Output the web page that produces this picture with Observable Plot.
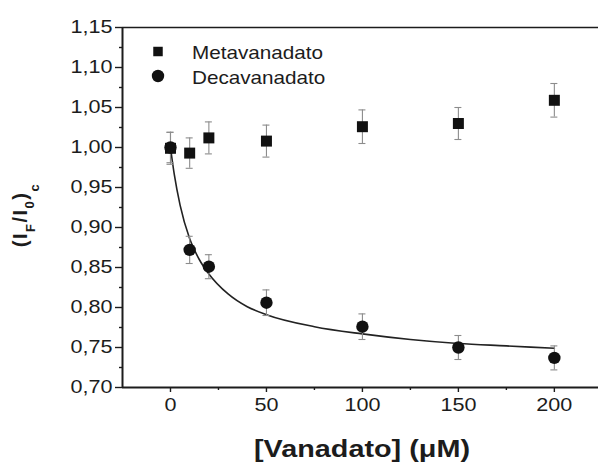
<!DOCTYPE html>
<html>
<head>
<meta charset="utf-8">
<script src="https://cdn.jsdelivr.net/npm/d3@7"></script>
<script src="https://cdn.jsdelivr.net/npm/@observablehq/plot@0.6"></script>
<style>
  html, body { margin: 0; padding: 0; background: #fff; overflow: hidden; }
  #chart svg { display: block; }
</style>
</head>
<body>
<div id="chart"></div>
<script>
// Vanadate concentration (µM) at which each sample was measured
const concentrations = [0, 10, 20, 50, 100, 150, 200];

// Metavanadate: relative fluorescence (I_F/I_0)_c and its error
const metaValues = [0.999, 0.993, 1.012, 1.008, 1.026, 1.030, 1.059];
const metaErrors = [0.020, 0.019, 0.020, 0.020, 0.021, 0.020, 0.021];

// Decavanadate: relative fluorescence (I_F/I_0)_c and its error
const decaValues = [1.000, 0.872, 0.851, 0.806, 0.776, 0.750, 0.737];
const decaErrors = [0.019, 0.017, 0.015, 0.016, 0.016, 0.015, 0.015];

// Fitted decavanadate curve
const fitX = [0, 2, 5, 10, 15, 20, 30, 40, 50, 75, 100, 125, 150, 175, 200];
const fitY = [1.000, 0.966, 0.928, 0.886, 0.860, 0.842, 0.817, 0.801, 0.791, 0.776, 0.767, 0.760, 0.755, 0.752, 0.749];

// Axes
const xDomain = [-25, 223];
const yDomain = [0.70, 1.15];
const xTicks = [0, 50, 100, 150, 200];
const xMinorTicks = [25, 75, 125, 175];
const yTicks = [0.70, 0.75, 0.80, 0.85, 0.90, 0.95, 1.00, 1.05, 1.10, 1.15];
const yMinorTicks = [0.725, 0.775, 0.825, 0.875, 0.925, 0.975, 1.025, 1.075, 1.125];

const seriesNames = ["Metavanadato", "Decavanadato"];
const xLabel = "[Vanadato] (\u03BCM)";

const meta = concentrations.map((x, i) => ({x, y: metaValues[i], e: metaErrors[i]}));
const deca = concentrations.map((x, i) => ({x, y: decaValues[i], e: decaErrors[i]}));
const fit = fitX.map((x, i) => ({x, y: fitY[i]}));

const fmt = d => d.toFixed(2).replace(".", ",");
const axisColor = "#1c1c1c";
const errColor = "#8c8c8c";
const markColor = "#111";
const widen = 1.2; // horizontal stretch of the lettering

const errorBars = (data) => [
  Plot.ruleX(data, {x: "x", y1: d => d.y - d.e, y2: d => d.y + d.e, stroke: errColor, strokeWidth: 1.1}),
  Plot.ruleY(data, {y: d => d.y + d.e, x1: "x", x2: "x", insetLeft: -3.5, insetRight: -3.5, stroke: errColor, strokeWidth: 1.1}),
  Plot.ruleY(data, {y: d => d.y - d.e, x1: "x", x2: "x", insetLeft: -3.5, insetRight: -3.5, stroke: errColor, strokeWidth: 1.1})
];

const plot = Plot.plot({
  width: 598,
  height: 466,
  marginLeft: 122,
  marginRight: 0,
  marginTop: 27,
  marginBottom: 79,
  style: {
    fontFamily: "'Liberation Sans', Arial, sans-serif",
    fontSize: "18px",
    color: axisColor,
    background: "#fff",
    overflow: "visible"
  },
  x: {domain: xDomain},
  y: {domain: yDomain},
  marks: [
    Plot.axisX(xMinorTicks, {tickSize: 3, text: null, label: null, strokeWidth: 1.4}),
    Plot.axisX(xTicks, {tickSize: 5, tickPadding: 6, label: null, strokeWidth: 1.4}),
    Plot.axisY(yMinorTicks, {tickSize: 3, text: null, label: null, strokeWidth: 1.4}),
    Plot.axisY(yTicks, {tickSize: 7, tickPadding: 3, tickFormat: fmt, label: null, strokeWidth: 1.4}),
    Plot.ruleX([xDomain[0]], {stroke: axisColor, strokeWidth: 2}),
    Plot.ruleY([yDomain[0]], {stroke: axisColor, strokeWidth: 2}),
    Plot.ruleY([yDomain[1]], {stroke: axisColor, strokeWidth: 1.6}),
    Plot.line(fit, {x: "x", y: "y", curve: "monotone-x", stroke: "#222", strokeWidth: 1.6}),
    ...errorBars(meta),
    ...errorBars(deca),
    Plot.dot(meta, {x: "x", y: "y", symbol: "square", r: 6.2, fill: markColor, stroke: "none"}),
    Plot.dot(deca, {x: "x", y: "y", symbol: "circle", r: 6.2, fill: markColor, stroke: "none"})
  ]
});

const svg = d3.select(plot);

// Widen the tick labels about their anchor points
svg.selectAll('g[aria-label="x-axis tick label"] text, g[aria-label="y-axis tick label"] text').each(function () {
  const t = this.getAttribute("transform");
  if (t && t.includes("translate")) {
    this.setAttribute("transform", `${t} scale(${widen},1)`);
  } else {
    const x = +(this.getAttribute("x") || 0), y = +(this.getAttribute("y") || 0);
    this.setAttribute("x", 0);
    this.setAttribute("y", 0);
    this.setAttribute("transform", `${t || ""} translate(${x},${y}) scale(${widen},1)`);
  }
});

// Legend in the upper-left corner of the frame
const legend = svg.append("g").attr("font-size", 18).attr("fill", axisColor).attr("text-anchor", "start");
legend.append("path").attr("d", d3.symbol(d3.symbolSquare, 90)()).attr("transform", "translate(158,51.5)").attr("fill", markColor);
legend.append("circle").attr("cx", 158).attr("cy", 76).attr("r", 6.2).attr("fill", markColor);
legend.append("text").attr("transform", "translate(192,58.5) scale(1.15,1)").text(seriesNames[0]);
legend.append("text").attr("transform", "translate(192,83.5) scale(1.15,1)").text(seriesNames[1]);

// x-axis title
svg.append("text")
  .attr("transform", `translate(362,457) scale(${widen},1)`)
  .attr("text-anchor", "middle")
  .attr("font-size", 24).attr("font-weight", "bold").attr("fill", axisColor)
  .text(xLabel);

// y-axis title: (I_F/I_0)_c with subscripts
const yTitle = svg.append("text")
  .attr("transform", "translate(27,215) rotate(-90)")
  .attr("text-anchor", "middle")
  .attr("font-size", 20).attr("font-weight", "bold").attr("fill", axisColor)
  .attr("letter-spacing", 1.5);
yTitle.append("tspan").text("(I");
yTitle.append("tspan").attr("font-size", 13).attr("dy", 8).text("F");
yTitle.append("tspan").attr("dy", -8).text("/I");
yTitle.append("tspan").attr("font-size", 13).attr("dy", 7).text("0");
yTitle.append("tspan").attr("dy", -7).text(")");
yTitle.append("tspan").attr("font-size", 13).attr("dy", 12).text("c");

document.getElementById("chart").append(plot);
</script>
</body>
</html>
